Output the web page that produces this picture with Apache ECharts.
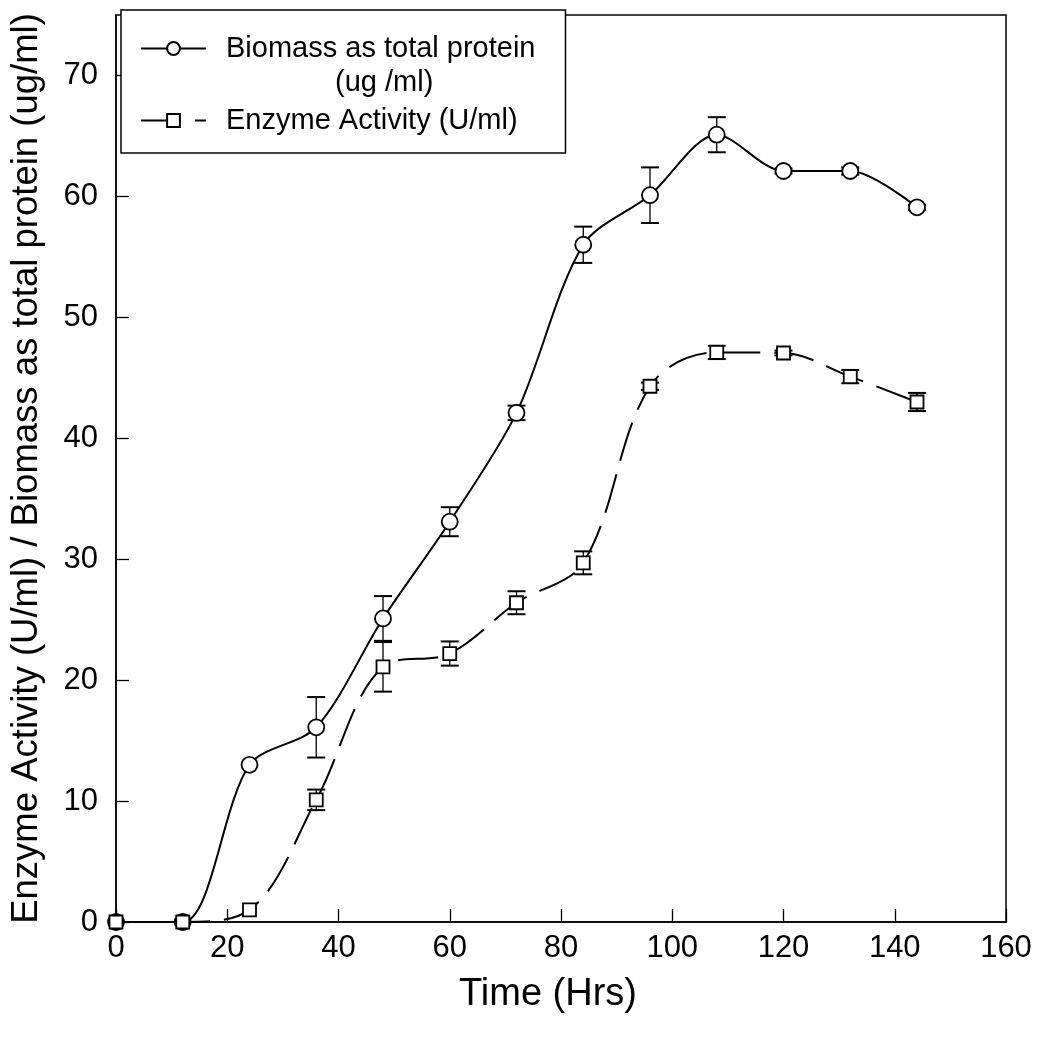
<!DOCTYPE html>
<html>
<head>
<meta charset="utf-8">
<script src="https://cdn.jsdelivr.net/npm/echarts@6/dist/echarts.min.js"></script>
<style>
html,body{margin:0;padding:0;background:#fff;}
#chart{width:1041px;height:1042px;}
</style>
</head>
<body>
<div id="chart"></div>
<script>
// ---- Data ----
var timeHrs = [0, 12, 24, 36, 48, 60, 72, 84, 96, 108, 120, 132, 144];
var biomass = [0, 0, 13, 16.1, 25.1, 33.1, 42.1, 56, 60.1, 65.1, 62.1, 62.1, 59.1];
var biomassErr = [0, 0, 0, 2.5, 1.85, 1.2, 0.6, 1.5, 2.3, 1.45, 0.2, 0.3, 0.2];
var enzyme = [0, 0, 1, 10.1, 21.1, 22.2, 26.4, 29.7, 44.3, 47.1, 47.05, 45.1, 43.0];
var enzymeErr = [0, 0, 0, 0.85, 2.05, 1.0, 0.95, 0.95, 0.3, 0.55, 0.2, 0.55, 0.75];
var xTicks = [0, 20, 40, 60, 80, 100, 120, 140, 160];
var yTicks = [0, 10, 20, 30, 40, 50, 60, 70];
var seriesNames = ['Biomass as total protein', 'Enzyme Activity (U/ml)'];

function pairs(xs, ys) { return xs.map(function (x, i) { return [x, ys[i]]; }); }
function errData(xs, ys, es) {
  var out = [];
  xs.forEach(function (x, i) { if (es[i] > 0) out.push([x, ys[i] - es[i], ys[i] + es[i]]); });
  return out;
}
function errRender(params, api) {
  var x = api.value(0), lo = api.value(1), hi = api.value(2);
  var t = api.coord([x, hi]), b = api.coord([x, lo]);
  var hw = 9;
  var st = { stroke: '#000', lineWidth: 1.3 };
  var cap = { stroke: '#000', lineWidth: 2 };
  return { type: 'group', children: [
    { type: 'line', shape: { x1: t[0], y1: t[1], x2: b[0], y2: b[1] }, style: st },
    { type: 'line', shape: { x1: t[0] - hw, y1: t[1], x2: t[0] + hw, y2: t[1] }, style: cap },
    { type: 'line', shape: { x1: b[0] - hw, y1: b[1], x2: b[0] + hw, y2: b[1] }, style: cap }
  ]};
}

var chart = echarts.init(document.getElementById('chart'), null, { renderer: 'canvas' });
var font = 'Liberation Sans, Arial, sans-serif';
chart.setOption({
  animation: false,
  backgroundColor: '#fff',
  grid: { left: 116, right: 35, top: 15, bottom: 120, show: true, borderColor: '#000', borderWidth: 1.5, backgroundColor: 'transparent' },
  legend: {
    orient: 'vertical', left: 121, top: 10,
    padding: [24, 30, 18, 19],
    itemWidth: 65, itemHeight: 16, itemGap: 43,
    borderColor: '#000', borderWidth: 1.5, backgroundColor: '#fff',
    data: seriesNames,
    textStyle: { fontFamily: font, fontSize: 29, color: '#000', padding: [0, 0, 0, 15] }
  },
  graphic: [{
    type: 'text', left: 335, top: 68, z: 100,
    style: { text: '(ug /ml)', font: '29px ' + font, fill: '#000' }
  }],
  xAxis: {
    type: 'value', min: 0, max: 160, interval: 20,
    name: 'Time (Hrs)', nameLocation: 'middle', nameGap: 54,
    nameTextStyle: { fontFamily: font, fontSize: 38, color: '#000', padding: [0, 26, 0, 0] },
    axisLine: { lineStyle: { color: '#000', width: 1.5 } },
    axisTick: { inside: true, length: 13, lineStyle: { color: '#000', width: 1.3 } },
    axisLabel: { fontFamily: font, fontSize: 31, color: '#000', margin: 11 },
    splitLine: { show: false }
  },
  yAxis: {
    type: 'value', min: 0, max: 75, interval: 10,
    name: 'Enzyme Activity (U/ml) / Biomass as total protein (ug/ml)',
    nameLocation: 'middle', nameGap: 71,
    nameTextStyle: { fontFamily: font, fontSize: 36.5, color: '#000' },
    axisLine: { lineStyle: { color: '#000', width: 1.5 } },
    axisTick: { inside: true, length: 13, lineStyle: { color: '#000', width: 1.3 } },
    axisLabel: { fontFamily: font, fontSize: 31, color: '#000', margin: 18, showMaxLabel: false },
    splitLine: { show: false }
  },
  series: [
    {
      name: 'bioErr', type: 'custom', renderItem: errRender, z: 1,
      data: errData(timeHrs, biomass, biomassErr), silent: true
    },
    {
      name: 'enzErr', type: 'custom', renderItem: errRender, z: 1,
      data: errData(timeHrs, enzyme, enzymeErr), silent: true
    },
    {
      name: seriesNames[0], type: 'line', smooth: 0.3, z: 3,
      data: pairs(timeHrs, biomass),
      symbol: 'circle', symbolSize: 16, showAllSymbol: true,
      lineStyle: { color: '#000', width: 2 },
      itemStyle: { color: '#fff', borderColor: '#000', borderWidth: 1.8 }
    },
    {
      name: seriesNames[1], type: 'line', smooth: 0.35, z: 3,
      data: pairs(timeHrs, enzyme),
      symbol: 'rect', symbolSize: 13, showAllSymbol: true,
      lineStyle: { color: '#000', width: 2, type: [40, 14] },
      itemStyle: { color: '#fff', borderColor: '#000', borderWidth: 1.8 }
    }
  ]
});
</script>
</body>
</html>
